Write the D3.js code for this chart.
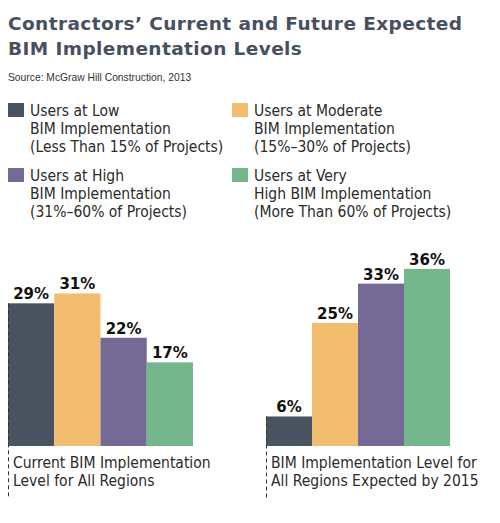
<!DOCTYPE html>
<html>
<head>
<meta charset="utf-8">
<script src="https://cdn.jsdelivr.net/npm/d3@7"></script>
<style>
  body { margin: 0; background: #fff; }
  svg { display: block; }
</style>
</head>
<body>
<svg id="chart"></svg>
<script>
const seriesNames = [
  ["Users at Low", "BIM Implementation", "(Less Than 15% of Projects)"],
  ["Users at Moderate", "BIM Implementation", "(15%\u201330% of Projects)"],
  ["Users at High", "BIM Implementation", "(31%\u201360% of Projects)"],
  ["Users at Very", "High BIM Implementation", "(More Than 60% of Projects)"]
];
const seriesColors = ["#4a5460", "#f2bd6e", "#756995", "#74b78d"];
const groupLabels = [
  ["Current BIM Implementation", "Level for All Regions"],
  ["BIM Implementation Level for", "All Regions Expected by 2015"]
];
const currentValues = [29, 31, 22, 17];
const expectedValues = [6, 25, 33, 36];
const groups = [currentValues, expectedValues];

const width = 500;
const height = 523;
const baseline = 446;
const narrow = "'Liberation Sans Narrow', 'DejaVu Sans Condensed', 'Liberation Sans', sans-serif";

const svg = d3.select("#chart")
  .attr("width", width)
  .attr("height", height);

// title
svg.append("text")
  .attr("x", 8)
  .attr("y", 30)
  .attr("font-family", "'DejaVu Sans', sans-serif")
  .attr("font-weight", "bold")
  .attr("font-size", 18.5)
  .attr("letter-spacing", 0.4)
  .attr("fill", "#47515e")
  .selectAll("tspan")
  .data(["Contractors\u2019 Current and Future Expected", "BIM Implementation Levels"])
  .enter()
  .append("tspan")
  .attr("x", 8)
  .attr("dy", (d, i) => i === 0 ? 0 : 25)
  .text(d => d);

svg.append("text")
  .attr("x", 8)
  .attr("y", 81)
  .attr("font-family", "'Liberation Sans', Arial, sans-serif")
  .attr("font-size", 10.3)
  .attr("fill", "#333")
  .text("Source: McGraw Hill Construction, 2013");

// legend
const legendX = [8, 232];
const legendY = [103, 168];
const legend = svg.append("g");
seriesNames.forEach((lines, i) => {
  const lx = legendX[i % 2];
  const ly = legendY[Math.floor(i / 2)];
  legend.append("rect")
    .attr("x", lx)
    .attr("y", ly)
    .attr("width", 16)
    .attr("height", 14)
    .attr("fill", seriesColors[i]);
  legend.append("text")
    .attr("font-family", narrow)
    .attr("font-size", 15.5)
    .attr("fill", "#2b2b2b")
    .selectAll("tspan")
    .data(lines)
    .enter()
    .append("tspan")
    .attr("x", lx + 22)
    .attr("y", (d, j) => ly + 13 + j * 18)
    .text(d => d);
});

// bars
const yScale = d3.scaleLinear()
  .domain([0, 40])
  .range([baseline, baseline - 4.92 * 40]);

const groupRanges = [[8, 193], [266, 450]];

groups.forEach((values, g) => {
  const xScale = d3.scaleBand()
    .domain(d3.range(values.length))
    .range(groupRanges[g])
    .paddingInner(0);

  const grp = svg.append("g");

  grp.selectAll("rect")
    .data(values)
    .enter()
    .append("rect")
    .attr("x", (d, i) => xScale(i))
    .attr("y", d => yScale(d))
    .attr("width", xScale.bandwidth())
    .attr("height", d => baseline - yScale(d))
    .attr("fill", (d, i) => seriesColors[i]);

  grp.selectAll("text.val")
    .data(values)
    .enter()
    .append("text")
    .attr("class", "val")
    .attr("x", (d, i) => xScale(i) + xScale.bandwidth() / 2)
    .attr("y", d => yScale(d) - 4)
    .attr("text-anchor", "middle")
    .attr("font-family", "'DejaVu Sans', sans-serif")
    .attr("font-weight", "bold")
    .attr("font-size", 15)
    .attr("fill", "#111")
    .text(d => d + "%");

  // dashed guide on the left edge
  grp.append("line")
    .attr("x1", xScale(0) + 0.5)
    .attr("x2", xScale(0) + 0.5)
    .attr("y1", yScale(values[0]))
    .attr("y2", 498)
    .attr("stroke", "#333")
    .attr("stroke-width", 1)
    .attr("stroke-dasharray", "4,3");

  grp.append("text")
    .attr("font-family", narrow)
    .attr("font-size", 15.5)
    .attr("fill", "#2b2b2b")
    .selectAll("tspan")
    .data(groupLabels[g])
    .enter()
    .append("tspan")
    .attr("x", xScale(0) + 5)
    .attr("y", (d, j) => 468 + j * 18)
    .text(d => d);
});
</script>
</body>
</html>
